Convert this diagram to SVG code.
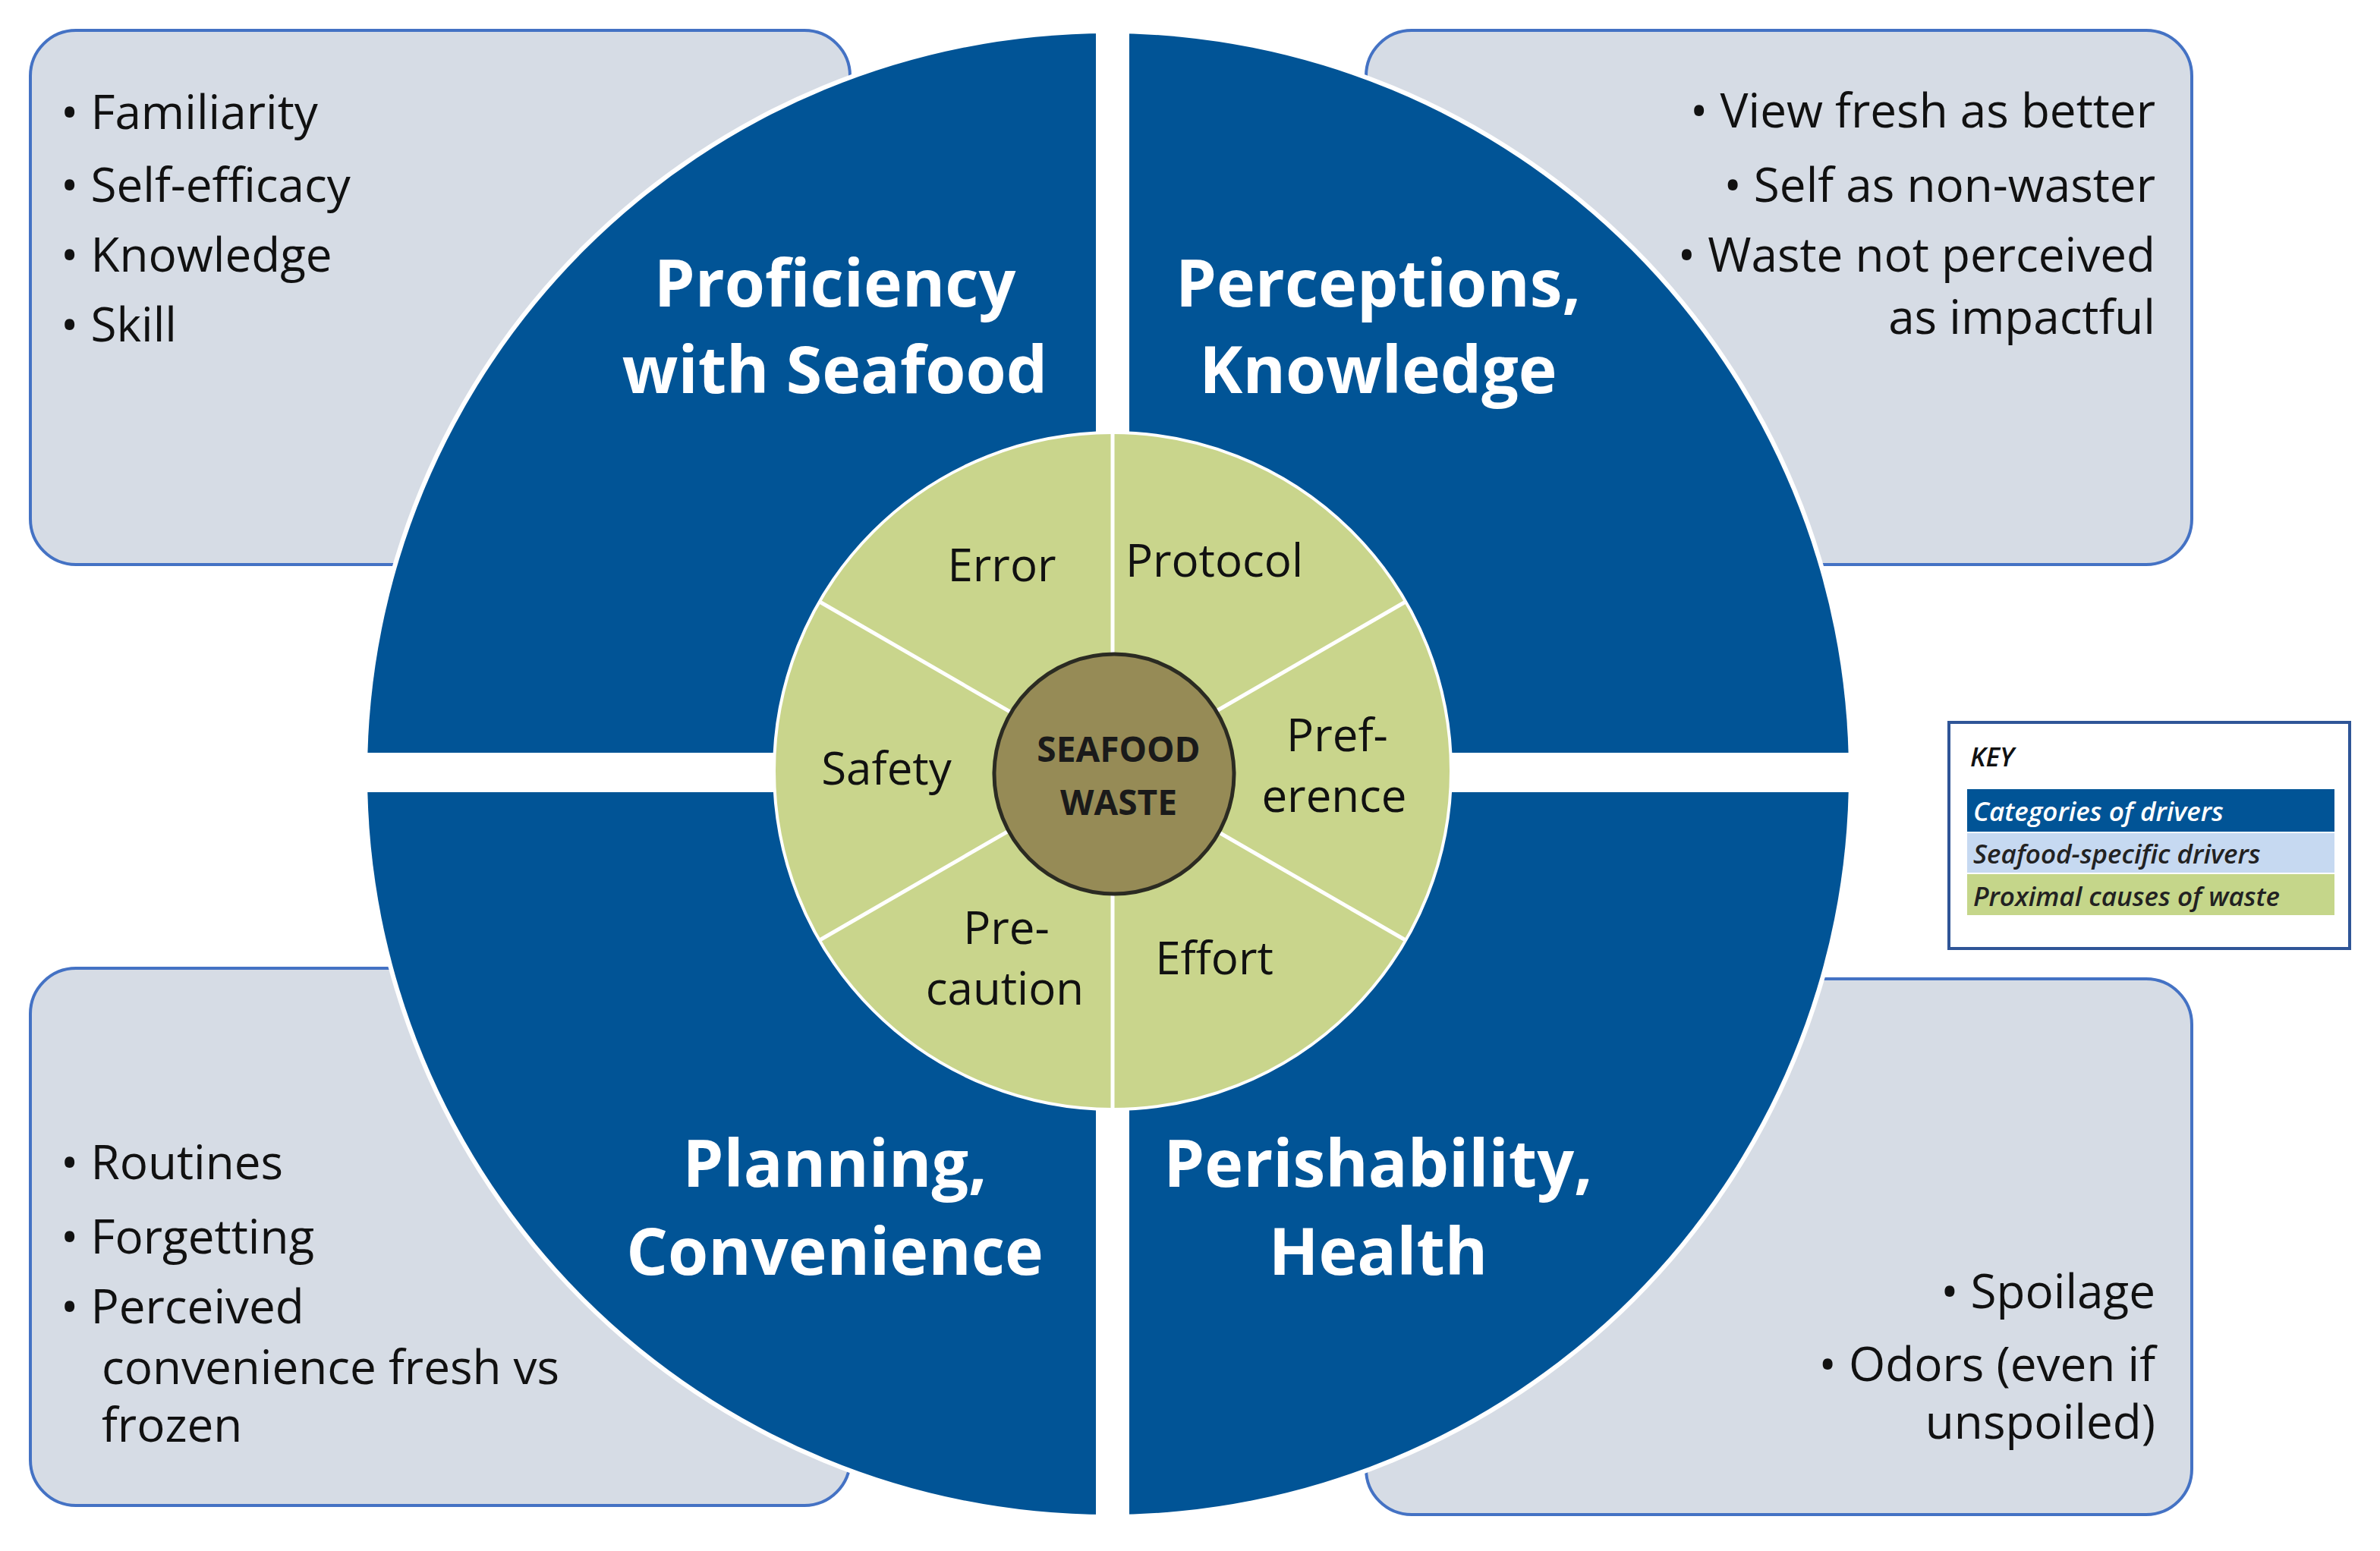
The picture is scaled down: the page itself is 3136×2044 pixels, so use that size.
<svg xmlns="http://www.w3.org/2000/svg" width="3136" height="2044" viewBox="0 0 3136 2044">
<style>
.box{fill:#d6dce5;stroke:#4472c4;stroke-width:4}
.t{font-family:"Open Sans","Liberation Sans",sans-serif;fill:#111;font-size:62px}
.cat{font-family:"Open Sans","Liberation Sans",sans-serif;fill:#fff;font-size:86px;font-weight:bold;text-anchor:middle}
.in{font-family:"Open Sans","Liberation Sans",sans-serif;fill:#111;font-size:60px;text-anchor:middle}
.k{font-family:"Open Sans","Liberation Sans",sans-serif;font-style:italic;font-size:35px;font-weight:600}
</style>
<rect width="3136" height="2044" fill="#fff"/>
<g id="box-tl"><rect class="box" x="40" y="40" width="1080" height="704" rx="60"/>
<text class="t" x="80" y="170">• Familiarity</text><text class="t" x="80" y="266">• Self-efficacy</text><text class="t" x="80" y="358">• Knowledge</text><text class="t" x="80" y="450">• Skill</text></g>
<g id="box-tr"><rect class="box" x="1800" y="40" width="1088" height="704" rx="60"/>
<g text-anchor="end"><text class="t" x="2840" y="168">• View fresh as better</text><text class="t" x="2840" y="266">• Self as non-waster</text><text class="t" x="2840" y="358">• Waste not perceived</text><text class="t" x="2840" y="440">as impactful</text></g></g>
<g id="box-bl"><rect class="box" x="40" y="1276" width="1080" height="708" rx="60"/>
<text class="t" x="80" y="1554">• Routines</text><text class="t" x="80" y="1652">• Forgetting</text><text class="t" x="80" y="1744">• Perceived</text><text class="t" x="134" y="1824">convenience fresh vs</text><text class="t" x="134" y="1900">frozen</text></g>
<g id="box-br"><rect class="box" x="1800" y="1290" width="1088" height="706" rx="60"/>
<g text-anchor="end"><text class="t" x="2840" y="1724">• Spoilage</text><text class="t" x="2840" y="1820">• Odors (even if</text><text class="t" x="2840" y="1896">unspoiled)</text></g></g>
<g id="outer">
<circle cx="1460" cy="1020" r="982" fill="#fff"/>
<circle cx="1460" cy="1020" r="976" fill="#015496"/>
<rect x="1444" y="30" width="44" height="1980" fill="#fff"/>
<rect x="400" y="992" width="2100" height="52" fill="#fff"/>
<text class="cat" x="1100" y="404">Proficiency</text><text class="cat" x="1100" y="518">with Seafood</text>
<text class="cat" x="1816" y="404">Perceptions,</text><text class="cat" x="1816" y="518">Knowledge</text>
<text class="cat" x="1100" y="1564">Planning,</text><text class="cat" x="1100" y="1680">Convenience</text>
<text class="cat" x="1816" y="1564">Perishability,</text><text class="cat" x="1816" y="1680">Health</text>
</g>
<g id="inner">
<circle cx="1466" cy="1016" r="446" fill="#c9d58c" stroke="#fff" stroke-width="4"/>
<g stroke="#fff" stroke-width="5">
<line x1="1466" y1="1016" x2="1466" y2="570"/><line x1="1466" y1="1016" x2="1466" y2="1462"/>
<line x1="1466" y1="1016" x2="1080" y2="793"/><line x1="1466" y1="1016" x2="1852" y2="793"/>
<line x1="1466" y1="1016" x2="1080" y2="1239"/><line x1="1466" y1="1016" x2="1852" y2="1239"/>
</g>
<text class="in" x="1320" y="766">Error</text><text class="in" x="1600" y="760">Protocol</text>
<text class="in" x="1762" y="990">Pref-</text><text class="in" x="1758" y="1070">erence</text>
<text class="in" x="1600" y="1284">Effort</text>
<text class="in" x="1326" y="1244">Pre-</text><text class="in" x="1324" y="1324">caution</text>
<text class="in" x="1168" y="1034">Safety</text>
</g>
<g id="center">
<circle cx="1468" cy="1020" r="158" fill="#968b56" stroke="#2b2b22" stroke-width="5"/>
<g font-family="'Open Sans','Liberation Sans',sans-serif" font-weight="bold" font-size="46" fill="#1a1a1a" text-anchor="middle"><text x="1474" y="1004">SEAFOOD</text><text x="1474" y="1074">WASTE</text></g>
</g>
<g id="key">
<rect x="2568" y="952" width="528" height="298" fill="#fff" stroke="#2f5597" stroke-width="4"/>
<text class="k" x="2596" y="1010" font-size="42" fill="#111">KEY</text>
<rect x="2592" y="1040" width="484" height="56" fill="#015496"/>
<rect x="2592" y="1098" width="484" height="52" fill="#c6d9f1"/>
<rect x="2592" y="1152" width="484" height="54" fill="#c5d68a"/>
<text class="k" x="2600" y="1082" fill="#fff">Categories of  drivers</text>
<text class="k" x="2600" y="1138" fill="#222">Seafood-specific drivers</text>
<text class="k" x="2600" y="1194" fill="#222">Proximal causes of waste</text>
</g>
</svg>
